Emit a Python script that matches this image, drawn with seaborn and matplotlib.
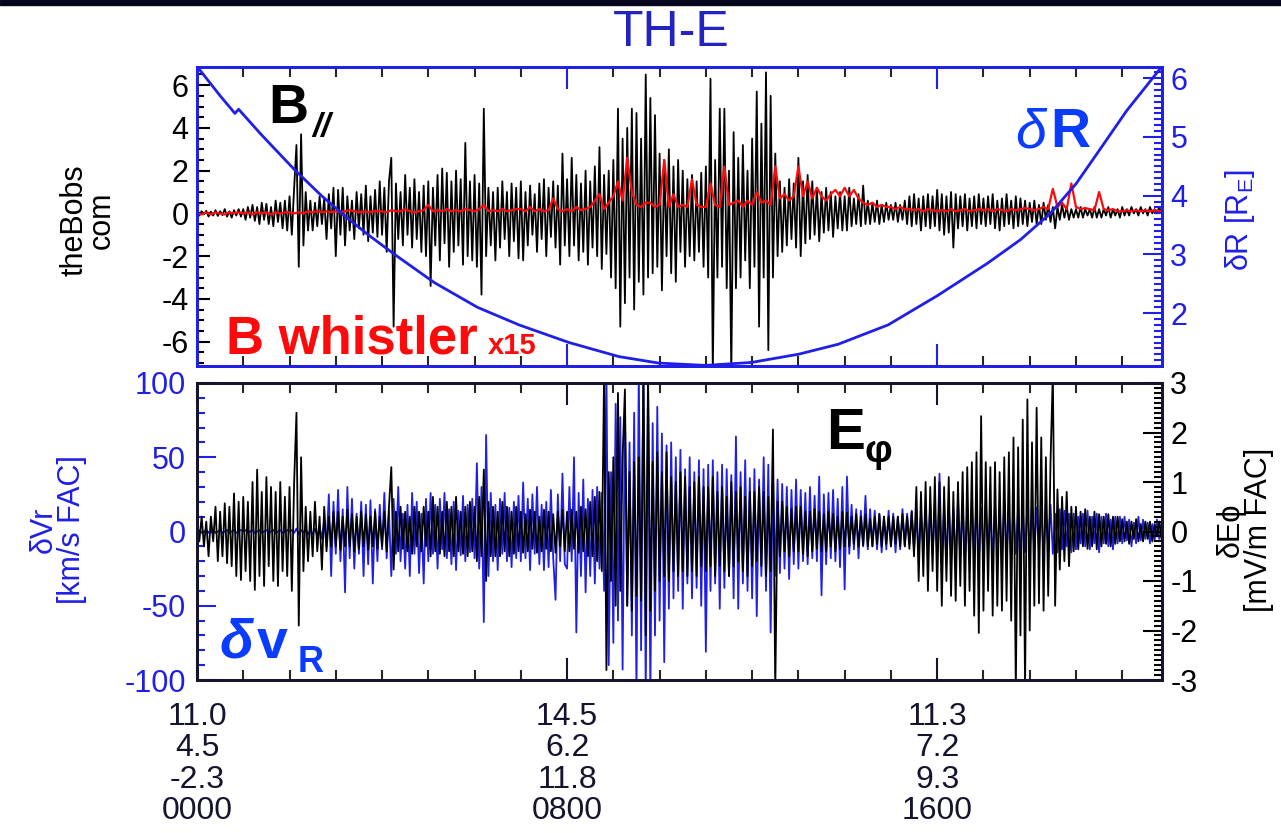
import numpy as np
import seaborn as sns
import matplotlib.pyplot as plt
from matplotlib.ticker import MultipleLocator, FixedLocator
from matplotlib.patches import Rectangle

# ---- data (hours from 0000 UT) ----
# B parallel, 20 samples per hour (one row per hour)
b_par = [
    0.05, -0.1, 0.1, -0.05, 0.12, -0.15, 0.08, -0.1, 0.15, -0.12, 0.1, -0.08, 0.2, -0.15, 0.1, -0.2, 0.15, -0.1, 0.2, -0.15,
    0.2, -0.3, 0.3, -0.2, 0.4, -0.35, 0.3, -0.5, 0.5, -0.3, 0.45, -0.5, 0.3, -0.6, 0.6, -0.4, 0.5, -0.7, 0.6, -0.8,
    0.8, -1.0, 1.2, 3.2, -2.5, 3.7, -1.5, 1.0, -0.8, 0.6, -0.8, 0.5, -0.6, 0.8, -0.5, 0.7, -1.2, 0.9, -0.7, 1.2,
    -2.0, 1.1, -1.0, 1.2, -1.5, 0.8, -0.8, 0.6, -1.2, 1.0, -0.7, 0.9, -1.0, 1.3, -1.3, 0.8, -0.9, 1.1, -1.1, 1.5,
    -1.0, 1.2, -1.8, 1.5, 2.6, -5.3, 1.4, -1.2, 1.0, -1.5, 1.8, -1.0, 1.2, -1.6, 1.6, -1.2, 1.0, -1.8, 1.3, -2.0,
    1.5, -3.4, 1.2, -1.5, 1.8, -2.2, 2.1, -1.4, 1.9, -2.5, 1.5, -1.8, 2.0, -1.5, 1.6, -2.4, 3.3, -2.0, 1.5, -2.2,
    1.8, -2.5, 1.4, -3.8, 4.9, -2.0, 1.2, -1.5, 1.0, -2.2, 1.2, -1.6, 1.5, -1.2, 1.0, -2.0, 1.4, -1.3, 1.2, -2.1,
    1.5, -2.2, 1.0, -1.5, 1.3, -1.0, 0.9, -1.8, 1.4, -1.2, 1.6, -2.0, 1.2, -1.1, 1.5, -1.6, 1.3, -2.4, 2.8, -1.5,
    1.6, -2.0, 2.6, -1.5, 1.8, -2.2, 1.4, -1.8, 2.0, -2.4, 1.5, -1.6, 2.2, -2.0, 3.1, -2.6, 1.8, -1.9, 2.0, -3.0,
    2.5, -3.5, 4.9, -5.3, 3.5, -4.2, 4.0, -3.0, 4.9, -4.5, 4.7, -3.2, 3.5, -3.8, 6.5, -3.0, 5.4, -2.8, 4.6, -2.5,
    2.8, -3.6, 2.5, -2.0, 3.0, -2.8, 2.2, -3.2, 2.5, -1.8, 2.0, -2.5, 1.6, -2.0, 1.8, -2.2, 1.5, -1.8, 1.9, -2.5,
    2.2, -3.0, 6.3, -7.5, 2.5, -3.0, 4.9, -2.5, 4.9, -3.5, 2.0, -7.5, 3.8, -3.5, 2.6, -3.0, 3.2, -2.2, 2.0, -3.5,
    3.5, -2.5, 5.7, -5.3, 4.2, -3.0, 6.6, -6.4, 5.5, -3.0, 2.8, -2.0, 1.5, -1.8, 1.2, -1.5, 1.6, -1.2, 1.4, -1.6,
    2.6, -2.0, 1.5, -1.4, 1.8, -1.2, 1.5, -1.0, 1.2, -1.3, 1.0, -0.9, 1.2, -0.8, 1.0, -1.1, 0.8, -0.7, 1.0, -0.8,
    0.8, -0.8, 1.2, -0.6, 0.7, -0.5, 0.9, -0.6, 1.3, -0.5, 0.6, -0.5, 0.5, -0.4, 0.6, -0.5, 0.4, -0.4, 0.5, -0.3,
    0.4, -0.3, 0.5, -0.4, 0.4, -0.3, 0.6, -0.5, 0.8, -0.6, 0.9, -0.5, 0.7, -0.8, 0.8, -0.6, 0.9, -0.7, 0.8, -0.6,
    1.1, -0.8, 0.9, -1.0, 0.8, -0.9, 1.0, -1.6, 0.9, -0.7, 0.8, -0.6, 0.9, -0.8, 0.7, -0.6, 0.8, -0.7, 0.9, -0.5,
    0.7, -0.6, 0.8, -0.5, 0.9, -0.7, 0.6, -0.8, 0.7, -0.6, 0.9, -0.5, 0.6, -0.7, 0.8, -0.6, 0.7, -0.5, 0.6, -0.6,
    0.5, -0.4, 0.6, -0.5, 0.4, -0.5, 0.5, -0.3, 0.4, -0.4, 0.3, -0.7, 0.3, -0.3, 0.4, -0.2, 0.3, -0.3, 0.2, -0.2,
    0.2, -0.2, 0.3, -0.2, 0.2, -0.1, 0.2, -0.2, 0.3, -0.2, 0.2, -0.2, 0.2, -0.1, 0.3, -0.2, 0.2, -0.1, 0.2, -0.2,
    0.3, -0.1, 0.2, -0.1, 0.3, 0.0, 0.2, -0.1, 0.3, 0.0, 0.2, -0.1, 0.3, 0.0, 0.2, 0.0, 0.3, 0.0, 0.2, 0.1,
]

# B whistler x15, 10 samples per hour
b_whistler = [
    0.0, -0.05, 0.05, -0.05, 0.05, 0.0, -0.05, 0.05, 0.0, 0.05,
    0.0, 0.05, -0.05, 0.05, 0.0, 0.05, -0.05, 0.05, 0.0, 0.05,
    0.05, 0.0, 0.05, 0.0, 0.1, 0.05, 0.1, 0.05, 0.1, 0.05,
    0.1, 0.05, 0.1, 0.15, 0.1, 0.05, 0.1, 0.05, 0.1, 0.1,
    0.1, 0.05, 0.15, 0.1, 0.1, 0.2, 0.1, 0.05, 0.1, 0.15,
    0.4, 0.1, 0.15, 0.1, 0.2, 0.1, 0.15, 0.1, 0.2, 0.15,
    0.1, 0.2, 0.4, 0.1, 0.15, 0.1, 0.2, 0.1, 0.15, 0.2,
    0.2, 0.1, 0.3, 0.1, 0.2, 0.1, 0.15, 0.7, 0.2, 0.1,
    0.2, 0.1, 0.3, 0.15, 0.2, 0.3, 0.6, 0.9, 0.2, 0.5,
    0.8, 1.5, 0.6, 2.6, 1.0, 0.4, 0.3, 0.5, 0.5, 0.3,
    0.4, 2.5, 0.3, 0.9, 0.3, 0.4, 0.3, 1.6, 0.4, 0.3,
    0.3, 1.4, 0.4, 0.3, 2.2, 0.4, 0.5, 0.6, 0.3, 0.6,
    0.4, 1.0, 0.5, 0.6, 0.4, 2.2, 0.7, 0.9, 0.6, 0.8,
    2.2, 0.8, 1.5, 0.7, 1.2, 0.8, 0.6, 0.9, 1.1, 0.8,
    1.2, 0.8, 1.1, 0.7, 0.5, 0.4, 0.5, 0.3, 0.4, 0.3,
    0.3, 0.2, 0.3, 0.2, 0.2, 0.15, 0.2, 0.1, 0.2, 0.15,
    0.1, 0.15, 0.1, 0.2, 0.1, 0.15, 0.2, 0.1, 0.15, 0.2,
    0.15, 0.2, 0.1, 0.2, 0.15, 0.1, 0.2, 0.15, 0.2, 0.25,
    0.2, 0.15, 0.2, 0.3, 0.2, 1.15, 0.3, 0.5, 0.2, 1.4,
    0.3, 0.2, 0.25, 0.2, 0.15, 1.0, 0.2, 0.15, 0.2, 0.1,
    0.1, 0.15, 0.1, 0.15, 0.1, 0.15, 0.1, 0.15, 0.1, 0.15,
]

# delta R (R_E) along the orbit
dr_time = [0.0, 0.11, 0.5, 0.82, 0.9, 1.4, 2.11, 2.69, 3.19, 3.69, 4.27, 5.13, 6.06, 6.96, 8.04, 9.12,
           9.98, 10.99, 11.98, 13.0, 13.86, 14.94, 16.01, 17.09, 17.8, 18.45, 19.0, 19.53, 20.1, 20.86]
dr_val = [6.2, 6.09, 5.7, 5.4, 5.47, 5.03, 4.44, 4.0, 3.66, 3.34, 3.0, 2.52, 2.1, 1.8, 1.5, 1.26,
          1.15, 1.11, 1.16, 1.3, 1.47, 1.8, 2.3, 2.85, 3.25, 3.7, 4.2, 4.8, 5.45, 6.2]

# delta Vr (km/s FAC), 20 samples per hour
dvr = [
    0, 1, -1, 0, 1, -1, 0, 1, -1, 0, 1, -1, 0, 1, -1, 0, 1, -1, 0, 1,
    0, 1, -1, 0, 1, -1, 0, 1, -1, 0, 1, -1, 0, 1, -1, 0, 1, -1, 0, 1,
    0, 1, -1, 2, -2, 1, -1, 2, -2, 1, -2, 2, -3, 3, -5, 8, -10, 25, -30, 20,
    -15, 28, -20, 15, -41, 30, -18, 22, -25, 12, -15, 20, -30, 18, -22, 21, -35, 15, -20, 18,
    -12, 26, -18, 14, -30, 22, -15, 30, -20, 12, -25, 18, -30, 26, -15, 20, -28, 12, -35, 22,
    -20, 26, -15, 18, -25, 22, -12, 26, -18, 15, -22, 20, -26, 14, -16, 24, -20, 18, -14, 22,
    -18, 46, -25, 30, -61, 65, -30, 26, -20, 18, -26, 22, -15, 26, -20, 16, -24, 20, -18, 24,
    -20, 33, -18, 22, -26, 25, -15, 30, -22, 18, -26, 20, -24, 28, -18, -46, 25, -20, 39, -22,
    -25, 30, -20, 50, -68, 26, -30, 35, -41, 22, -30, 28, -35, 30, -25, 26, -40, 110, -90, 40,
    -75, 86, -60, 77, -93, 82, -50, 60, -70, 80, -110, 110, -80, 110, -110, 100, -110, 73, -70, 84,
    -60, 66, -88, 58, -52, 60, -45, 50, -40, 55, -52, 42, -35, 50, -45, 40, -38, 48, -50, 42,
    -81, 45, -40, 48, -35, 40, -52, 45, -38, 42, -30, 38, -45, 64, -52, 40, -35, 48, -40, 36,
    -45, 42, -57, 35, -30, 50, -40, 45, -68, 38, -30, 35, -28, 32, -25, 30, -32, 28, -22, 35,
    -25, 28, -20, 26, -22, 30, -18, 24, -20, 37, -43, 25, -22, 26, -18, 28, -20, 22, -24, 30,
    -39, 37, -15, 18, -12, 15, -18, 14, -10, 24, -12, 15, -10, 14, -12, 12, -14, 10, -12, 14,
    -10, 12, -14, 10, -12, 15, -10, 12, -8, 14, -12, 10, -14, 12, -10, 15, -12, 18, -15, 14,
    -15, 39, -20, 18, -22, 20, -18, 15, -20, 22, -16, 18, -20, 15, -18, 20, -15, 18, -20, 16,
    -18, 20, -15, 16, -20, 18, -14, 15, -18, 20, -16, 14, -20, 18, -15, 16, -18, 15, -14, 18,
    -15, 18, -14, 16, -12, 15, -16, 14, -12, 18, -15, 12, -14, 15, -12, 14, -10, 12, -14, 12,
    -12, 10, -8, 12, -10, 14, -12, 10, -8, 12, -14, 10, -8, 12, -10, 8, -12, 10, -8, 10,
    -8, 10, -6, 8, -10, 6, -8, 10, -6, 8, -5, 6, -8, 5, -6, 8, -5, 6, -4, 5,
]

# delta E phi (mV/m FAC), 20 samples per hour
dephi = [
    0.1, -0.2, 0.3, -0.3, 0.2, -0.5, 0.3, -0.2, 0.5, -0.6, 0.4, -0.5, 0.57, -0.64, 0.5, -0.7, 0.77, -0.9, 0.6, -0.98,
    0.7, -0.8, 0.6, -1.0, 1.0, -1.18, 1.25, -0.9, 0.8, -1.1, 1.1, -0.7, 0.9, -1.0, 0.8, -1.1, 1.0, -0.8, 0.7, -0.9,
    0.9, -1.2, 1.0, 2.4, -1.9, 1.5, -0.8, 0.5, -0.6, 0.4, -0.5, 0.6, -0.4, 0.3, -0.77, 0.5, -0.4, 0.3, -0.3, 0.4,
    -0.3, 0.4, -0.37, 0.3, -0.3, 0.44, -0.3, 0.35, -0.4, 0.3, -0.35, 0.4, -0.3, 0.35, -0.37, 0.3, -0.3, 0.4, -0.35, 0.3,
    -0.3, 0.4, -0.4, 0.5, 1.3, -0.77, 0.4, -0.4, 0.5, -0.35, 0.4, -0.4, 0.3, -0.45, 0.5, -0.3, 0.4, -0.4, 0.5, -0.3,
    0.4, -0.5, 0.7, -0.4, 0.5, -0.45, 0.4, -0.5, 0.6, -0.4, 0.5, -0.5, 0.7, -0.4, 0.4, -0.45, 0.5, -0.5, 0.6, -0.4,
    0.5, -0.6, 0.7, -0.5, 1.25, -1.0, 0.6, -0.5, 0.5, -0.5, 0.4, -0.5, 0.6, -0.4, 0.5, -0.5, 0.4, -0.45, 0.5, -0.4,
    0.4, -0.43, 0.35, -0.4, 0.44, -0.35, 0.4, -0.43, 0.3, -0.4, 0.44, -0.35, 0.4, -0.4, 0.35, -0.43, 0.4, -0.3, 0.44, -0.4,
    0.4, -0.4, 0.44, -0.35, 0.4, -0.43, 0.5, -0.4, 0.45, -0.5, 0.6, -0.5, 0.7, -0.6, 0.8, -0.8, 3.2, -2.8, 1.2, -1.0,
    1.5, -1.5, 2.8, -1.2, 1.5, 2.87, -1.5, 1.2, -1.6, 1.4, -1.3, 1.5, -1.4, 3.2, -2.1, 3.2, -1.6, 1.4, -1.2, 1.6,
    -1.0, 1.2, -0.9, 1.6, -1.0, 1.1, -0.8, 1.0, -0.9, 1.2, -0.8, 1.1, -0.9, 0.9, -0.8, 1.0, -0.9, 1.1, -0.7, 0.9,
    -0.8, 0.9, -0.7, 1.1, -0.9, 0.8, -0.7, 0.9, -0.8, 0.7, -0.9, 1.0, -0.7, 0.8, -0.6, 0.9, -0.8, 0.7, -0.9, 0.8,
    -0.7, 0.8, -0.6, 0.9, -0.7, 0.8, -0.9, 0.7, -0.8, 2.06, -3.2, 0.6, -0.5, 0.6, -0.4, 0.5, -0.5, 0.45, -0.4, 0.5,
    -0.4, 0.5, -0.45, 0.4, -0.5, 0.4, -0.4, 0.45, -0.35, 0.4, -0.4, 0.35, -0.4, 0.4, -0.3, 0.35, -0.4, 0.3, -0.35, 0.4,
    -0.3, 0.38, -0.3, 0.3, -0.25, 0.35, -0.3, 0.3, -0.28, 0.35, -0.3, 0.25, -0.3, 0.3, -0.25, 0.35, -0.3, 0.3, -0.25, 0.3,
    -0.3, 0.3, -0.25, 0.3, -0.3, 0.35, -0.3, 0.3, -0.35, 0.4, -0.5, 0.9, -1.0, 0.8, -0.9, 1.0, -1.2, 0.9, -0.8, 1.1,
    -1.2, 1.0, -1.5, 0.9, -1.0, 1.1, -1.3, 0.8, -1.4, 1.0, -1.1, 1.2, -1.5, 1.3, -1.2, 1.4, -1.7, 1.6, -2.05, 2.33,
    -1.6, 1.4, -1.2, 1.3, -1.7, 1.4, -1.5, 1.2, -1.6, 1.5, -1.4, 1.6, -1.8, 1.9, -3.2, 1.7, -2.1, 2.26, -3.2, 2.67,
    -2.0, 1.8, -1.5, 2.5, -1.45, 1.9, -1.6, 1.5, -1.3, 1.4, 3.2, -1.5, 0.85, -0.77, 0.7, -0.6, 0.8, -0.7, 0.5, -0.4,
    0.5, -0.36, 0.4, -0.3, 0.45, -0.35, 0.3, -0.3, 0.4, -0.36, 0.35, -0.3, 0.3, -0.25, 0.35, -0.3, 0.3, -0.25, 0.3, -0.2,
    0.25, -0.2, 0.2, -0.25, 0.2, -0.15, 0.25, -0.2, 0.15, -0.2, 0.2, -0.15, 0.2, -0.2, 0.15, -0.1, 0.2, -0.15, 0.1, -0.1,
]

tick_hours = [0, 8, 16]
tick_labels = ["11.0\n4.5\n-2.3\n0000", "14.5\n6.2\n11.8\n0800", "11.3\n7.2\n9.3\n1600"]

t20 = np.arange(len(b_par)) / 20.0
t10 = np.arange(len(b_whistler)) / 10.0

BLUE = '#1f1fe8'
TXT_BLUE = '#0a3cff'
TITLE_BLUE = '#2323c0'
RED = '#ff0a0a'
DARK = '#14142e'

sns.set_theme(style="ticks")
plt.rcParams['font.family'] = ['Liberation Sans', 'DejaVu Sans']
plt.rcParams['mathtext.fontset'] = 'custom'
plt.rcParams['mathtext.rm'] = 'Liberation Sans'
plt.rcParams['axes.unicode_minus'] = False

W, H = 1281, 833
fig = plt.figure(figsize=(W / 100, H / 100), dpi=100)


def put(px, py, s, **kw):
    kw.setdefault('va', 'baseline')
    fig.text(px / W, 1 - py / H, s, **kw)


ax1 = fig.add_axes([197 / W, 1 - 366 / H, 965 / W, 299 / H])
ax2 = fig.add_axes([197 / W, 1 - 680 / H, 965 / W, 297 / H])
ax1r = ax1.twinx()
ax2r = ax2.twinx()

# top panel
sns.lineplot(x=t20, y=b_par, ax=ax1, color='black', linewidth=1.3)
sns.lineplot(x=t10, y=b_whistler, ax=ax1, color=RED, linewidth=1.6)
sns.lineplot(x=dr_time, y=dr_val, ax=ax1r, color=BLUE, linewidth=2.0, sort=False)

# bottom panel
sns.lineplot(x=t20, y=dvr, ax=ax2, color=BLUE, linewidth=1.3)
sns.lineplot(x=t20, y=dephi, ax=ax2r, color='black', linewidth=1.3)

for ax in (ax1, ax2):
    ax.set_xlim(0, 20.86)
    ax.xaxis.set_major_locator(FixedLocator(tick_hours))
    ax.xaxis.set_minor_locator(MultipleLocator(1))
    ax.tick_params(axis='x', which='both', direction='in', top=True, bottom=True, width=1.5)
    ax.tick_params(axis='x', which='major', length=16)
    ax.tick_params(axis='x', which='minor', length=7)
    ax.set_xlabel('')
    ax.set_ylabel('')
ax1r.set_ylabel('')
ax2r.set_ylabel('')

ax1.set_ylim(-7.14, 6.85)
ax1.yaxis.set_major_locator(MultipleLocator(2))
ax1.yaxis.set_minor_locator(MultipleLocator(0.5))
ax1.tick_params(axis='x', colors=BLUE, labelbottom=False)
ax1.tick_params(axis='y', which='both', direction='in', left=True, right=False,
                colors='black', labelsize=22, width=1.5, pad=6)
ax1.tick_params(axis='y', which='major', length=9)
ax1.tick_params(axis='y', which='minor', length=5)

ax1r.set_ylim(1.10, 6.19)
ax1r.yaxis.set_major_locator(MultipleLocator(1))
ax1r.yaxis.set_minor_locator(MultipleLocator(0.1))
ax1r.tick_params(axis='y', which='both', direction='in', left=False, right=True,
                 colors=BLUE, labelsize=22, width=1.5, pad=6)
ax1r.tick_params(axis='y', which='major', length=14)
ax1r.tick_params(axis='y', which='minor', length=6)

ax2.set_ylim(-100, 100)
ax2.yaxis.set_major_locator(MultipleLocator(50))
ax2.yaxis.set_minor_locator(MultipleLocator(10))
ax2.tick_params(axis='x', colors=DARK, labelsize=23, pad=16)
ax2.set_xticks(tick_hours)
ax2.set_xticklabels(tick_labels)
for lbl in ax2.get_xticklabels():
    lbl.set_linespacing(1.05)
ax2.tick_params(axis='y', which='both', direction='in', left=True, right=False,
                colors=BLUE, labelsize=22, width=1.5, pad=8)
ax2.tick_params(axis='y', which='major', length=14)
ax2.tick_params(axis='y', which='minor', length=6)

ax2r.set_ylim(-3, 3)
ax2r.yaxis.set_major_locator(MultipleLocator(1))
ax2r.yaxis.set_minor_locator(MultipleLocator(0.1))
ax2r.tick_params(axis='y', which='both', direction='in', left=False, right=True,
                 colors='black', labelsize=22, width=1.5, pad=6)
ax2r.tick_params(axis='y', which='major', length=14)
ax2r.tick_params(axis='y', which='minor', length=6)

for ax in (ax1, ax1r):
    for sp in ax.spines.values():
        sp.set_color(BLUE)
        sp.set_linewidth(2)
for ax in (ax2, ax2r):
    for sp in ax.spines.values():
        sp.set_color(DARK)
        sp.set_linewidth(2)

# axis titles
fig.text(88 / W, 1 - 220 / H, 'theBobs\ncom', rotation=90, ha='center', va='center',
         fontsize=22, color='black', linespacing=0.9)
fig.text(1240 / W, 1 - 220 / H, r'δR [R$_{\rm E}$]', rotation=90, ha='center', va='center',
         fontsize=22, color=BLUE)
fig.text(58 / W, 1 - 530 / H, 'δVr\n[km/s FAC]', rotation=90, ha='center', va='center',
         fontsize=22, color=BLUE, linespacing=0.9)
fig.text(1245 / W, 1 - 530 / H, 'δEϕ\n[mV/m FAC]', rotation=90, ha='center', va='center',
         fontsize=22, color='black', linespacing=0.9)

# title and in-panel labels
fig.text(671 / W, 1 - 33 / H, 'TH-E', ha='center', va='center', fontsize=36, color=TITLE_BLUE)
put(268, 123, 'B', fontsize=40, fontweight='bold', color='black')
put(312, 136, '//', fontsize=24, fontweight='bold', style='italic', color='black')
put(1015, 147, 'δ', fontsize=40, style='italic', color=TXT_BLUE)
put(1050, 147, 'R', fontsize=40, fontweight='bold', color=TXT_BLUE)
put(226, 354, 'B whistler', fontsize=38, fontweight='bold', color=RED)
put(488, 354, 'x15', fontsize=21, fontweight='bold', color=RED)
put(220, 658, 'δ', fontsize=40, style='italic', fontweight='bold', color=TXT_BLUE)
put(257, 658, 'v', fontsize=40, fontweight='bold', color=TXT_BLUE)
put(298, 672, 'R', fontsize=26, fontweight='bold', color=TXT_BLUE)
put(826, 449, 'E', fontsize=42, fontweight='bold', color='black')
put(865, 462, 'φ', fontsize=28, fontweight='bold', color='black')

# dark strip along the top edge of the original image
fig.patches.append(Rectangle((0, 1 - 5 / H), 1, 5 / H, transform=fig.transFigure,
                             color='#06061e', zorder=10))

fig.savefig('out.png', dpi=100)
